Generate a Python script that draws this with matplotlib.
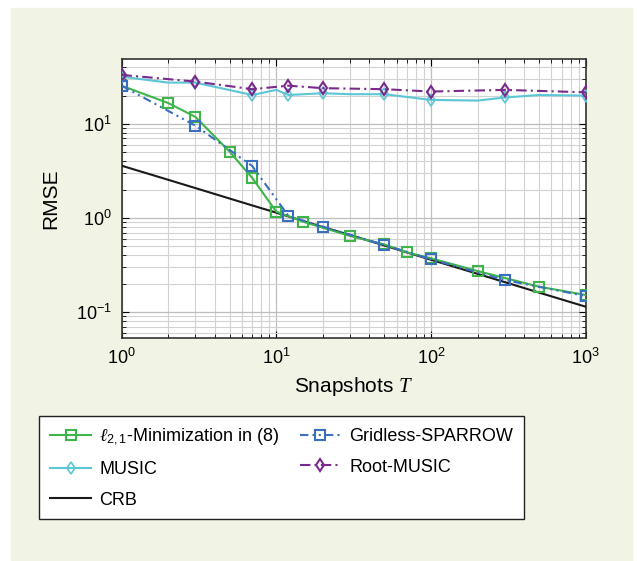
import matplotlib.pyplot as plt
from matplotlib.patches import Rectangle

plt.rcParams['font.family'] = ['Liberation Sans', 'DejaVu Sans']
plt.rcParams['mathtext.fontset'] = 'custom'
plt.rcParams['mathtext.rm'] = 'Liberation Sans'
plt.rcParams['mathtext.sf'] = 'Liberation Sans'
plt.rcParams['mathtext.it'] = 'Liberation Serif:italic'

# l21-minimization (green)
l21_T = [1, 2, 3, 5, 7, 10, 15, 30, 50, 70, 100, 200, 500, 1000]
l21_rmse = [25.5, 16.7, 11.9, 5.07, 2.66, 1.17, 0.91, 0.644, 0.524, 0.431, 0.373, 0.273, 0.186, 0.152]

# Gridless-SPARROW (blue)
spa_T = [1, 3, 7, 12, 20, 50, 100, 300, 1000]
spa_rmse = [25.5, 9.6, 3.57, 1.05, 0.81, 0.516, 0.364, 0.219, 0.148]

# MUSIC (cyan) - line points and marker points
music_T = [1, 2, 3, 7, 10, 12, 20, 30, 50, 100, 200, 300, 500, 1000]
music_rmse = [31.8, 27.5, 27.5, 20.3, 23.0, 20.3, 21.2, 20.7, 20.7, 18.0, 17.7, 19.1, 20.3, 20.0]
music_marks = [0, 2, 3, 5, 6, 8, 9, 11, 13]

# Root-MUSIC (purple)
root_T = [1, 3, 7, 12, 20, 50, 100, 300, 1000]
root_rmse = [33.2, 28.2, 23.4, 25.5, 24.0, 23.4, 22.1, 23.0, 21.7]

# CRB (black)
crb_T = [1, 2, 3, 5, 7, 10, 20, 30, 50, 70, 100, 200, 300, 500, 1000]
crb_rmse = [3.6, 2.55, 2.08, 1.61, 1.36, 1.14, 0.80, 0.66, 0.51, 0.43, 0.36, 0.255, 0.208, 0.161, 0.114]

W, H = 637, 561
fig = plt.figure(figsize=(W / 100, H / 100), dpi=100)
fig.patches.append(Rectangle((11 / W, 1 - 560 / H), 621 / W, 552 / H,
                             transform=fig.transFigure, color='#F1F4E4', zorder=-10))

ax = fig.add_axes([121.5 / W, 1 - 338 / H, (585.7 - 121.5) / W, (338 - 59) / H])
ax.set_zorder(1)
ax.set_xscale('log')
ax.set_yscale('log')

ax.plot(l21_T, l21_rmse, color='#3DB54A', lw=1.5, marker='s', ms=6.5, mfc='none', mew=1.5,
        label=r'$\ell_{\mathrm{2,1}}$-Minimization in (8)', zorder=4)
ax.plot(music_T, music_rmse, color='#5CC6D6', lw=1.5, marker='d', ms=6, mfc='none', mew=1.2,
        markevery=music_marks, label='MUSIC', zorder=3)
ax.plot(crb_T, crb_rmse, color='#1a1a1a', lw=1.5, label='CRB', zorder=3)
ax.plot(spa_T, spa_rmse, color='#3A6FBF', lw=1.5, ls=(0, (4, 2, 1, 2, 1, 2)), marker='s', ms=6.5,
        mfc='none', mew=1.5, label='Gridless-SPARROW', zorder=5)
ax.plot(root_T, root_rmse, color='#7A2A8C', lw=1.5, ls=(0, (5, 2, 1, 2)), marker='d', ms=6,
        mfc='none', mew=1.5, label='Root-MUSIC', zorder=4)

ax.set_xlim(1, 1000)
ax.set_ylim(0.053, 49)
ax.grid(True, which='major', color='#bdbdbd', lw=0.9)
ax.grid(True, which='minor', color='#d2d2d2', lw=0.8)
ax.tick_params(which='both', direction='in', top=True, right=True, labelsize=13)
ax.tick_params(which='major', length=5, pad=7)
ax.tick_params(which='minor', length=3)
for s in ax.spines.values():
    s.set_color('#333333')
    s.set_linewidth(1.2)

ax.set_xlabel('Snapshots $T$', fontsize=15, labelpad=5)
ax.set_ylabel('RMSE', fontsize=15, labelpad=11)

handles, labels = ax.get_legend_handles_labels()
leg = fig.legend(handles, labels,
                 loc='upper left', bbox_to_anchor=(39 / W, 1 - 416 / H), ncol=2,
                 fontsize=13, frameon=True, fancybox=False, edgecolor='#222222',
                 handlelength=2.3, handletextpad=0.45, labelspacing=0.75,
                 columnspacing=1.1, borderpad=0.6, borderaxespad=0)
leg.get_frame().set_linewidth(1.0)
leg.get_frame().set_facecolor('white')
leg.get_frame().set_alpha(1)

fig.savefig('out.png', dpi=100)
